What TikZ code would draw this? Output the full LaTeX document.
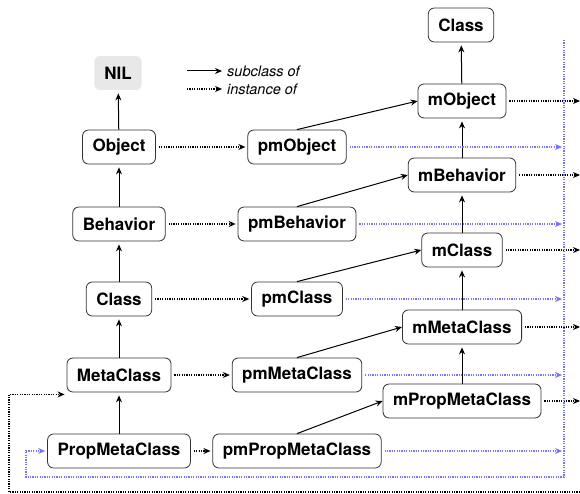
\documentclass[tikz,border=0pt]{standalone}
\usepackage{fontspec}
\setsansfont{TeX Gyre Heros}
\usetikzlibrary{arrows.meta}
\definecolor{linkblue}{RGB}{115,115,255}
\definecolor{nilgray}{RGB}{232,232,232}
\begin{document}
\begin{tikzpicture}[x=1pt,y=-1pt]
\tikzstyle{every node}+=[font=\sffamily\bfseries\fontsize{17}{20}\selectfont]
\tikzstyle{cls}=[draw=black!80,rounded corners=6pt,line width=0.8pt,inner xsep=10pt,minimum height=34pt]
\tikzstyle{sub}=[-{Stealth[length=7pt,width=6pt]},line width=1pt]
\tikzstyle{inst}=[-{Stealth[length=7pt,width=6pt]},line width=1.3pt,dash pattern=on 1.2pt off 1.2pt]
\tikzstyle{blueinst}=[inst,linkblue]
\tikzstyle{legend}=[font=\sffamily\itshape\fontsize{14.5}{16}\selectfont,anchor=west,inner sep=0pt]
\useasboundingbox (0,0) rectangle (580,494);
% legend
\coordinate (l1a) at (187,71);
\coordinate (l1b) at (222,71);
\coordinate (l2a) at (187,89);
\coordinate (l2b) at (222,89);
\draw[sub] (l1a) -- (l1b);
\draw[inst] (l2a) -- (l2b);
\node[legend] (lsub) at (227,71) {subclass of};
\node[legend] (linst) at (227,89) {instance of};
% left column
\node[cls,draw=none,fill=nilgray] (nil) at (118,73) {NIL};
\node[cls] (object) at (119,147) {Object};
\node[cls] (behavior) at (119,224) {Behavior};
\node[cls] (class) at (119,299) {Class};
\node[cls] (metaclass) at (119,375) {MetaClass};
\node[cls] (propmeta) at (119,451) {PropMetaClass};
% middle column
\node[cls] (pmobject) at (297,147) {pmObject};
\node[cls] (pmbehavior) at (297,224) {pmBehavior};
\node[cls] (pmclass) at (297,299) {pmClass};
\node[cls] (pmmetaclass) at (297,375) {pmMetaClass};
\node[cls] (pmpropmeta) at (297,451) {pmPropMetaClass};
% right column
\node[cls] (topclass) at (461,25) {Class};
\node[cls] (mobject) at (462,101) {mObject};
\node[cls] (mbehavior) at (462,175) {mBehavior};
\node[cls] (mclass) at (462,250) {mClass};
\node[cls] (mmetaclass) at (462,327) {mMetaClass};
\node[cls] (mpropmeta) at (462,401) {mPropMetaClass};
% subclass links
\draw[sub,shorten >=3pt] (object) -- (nil);
\draw[sub,shorten >=3pt] (behavior) -- (object);
\draw[sub,shorten >=3pt] (class) -- (behavior);
\draw[sub,shorten >=3pt] (metaclass) -- (class);
\draw[sub,shorten >=3pt] (propmeta) -- (metaclass);
\draw[sub,shorten >=3pt] (mobject) -- (topclass);
\draw[sub,shorten >=3pt] (mbehavior) -- (mobject);
\draw[sub,shorten >=3pt] (mclass) -- (mbehavior);
\draw[sub,shorten >=3pt] (mmetaclass) -- (mclass);
\draw[sub,shorten >=3pt] (mpropmeta) -- (mmetaclass);
\draw[sub] (pmobject.north) -- (mobject.west);
\draw[sub] (pmbehavior.north) -- (mbehavior.west);
\draw[sub] (pmclass.north) -- (mclass.west);
\draw[sub] (pmmetaclass.north) -- (mmetaclass.west);
\draw[sub] (pmpropmeta.north) -- (mpropmeta.west);
% instance links
\draw[inst,shorten <=3pt,shorten >=2pt] (object) -- (pmobject);
\draw[inst,shorten <=3pt,shorten >=2pt] (behavior) -- (pmbehavior);
\draw[inst,shorten <=3pt,shorten >=2pt] (class) -- (pmclass);
\draw[inst,shorten <=3pt,shorten >=2pt] (metaclass) -- (pmmetaclass);
\draw[inst,shorten <=3pt,shorten >=2pt] (propmeta) -- (pmpropmeta);
% m-classes are instances of the top Class
\coordinate (out1) at (580,101);
\coordinate (out2) at (580,175);
\coordinate (out3) at (580,250);
\coordinate (out4) at (580,327);
\coordinate (out5) at (580,401);
\draw[inst,shorten <=3pt] (mobject) -- (out1);
\draw[inst,shorten <=3pt] (mbehavior) -- (out2);
\draw[inst,shorten <=3pt] (mclass) -- (out3);
\draw[inst,shorten <=3pt] (mmetaclass) -- (out4);
\draw[inst,shorten <=3pt] (mpropmeta) -- (out5);
% pm-classes are instances of PropMetaClass
\coordinate (bustop) at (564,40);
\coordinate (busbot) at (564,477);
\coordinate (busleft) at (26,477);
\draw[linkblue,line width=1.3pt,dash pattern=on 1.2pt off 1.2pt] (bustop) -- (busbot);
\draw[blueinst,shorten <=3pt] (pmobject) -- (pmobject -| 562,0);
\draw[blueinst,shorten <=3pt] (pmbehavior) -- (pmbehavior -| 562,0);
\draw[blueinst,shorten <=3pt] (pmclass) -- (pmclass -| 562,0);
\draw[blueinst,shorten <=3pt] (pmmetaclass) -- (pmmetaclass -| 562,0);
\draw[blueinst,shorten <=3pt] (pmpropmeta) -- (pmpropmeta -| 562,0);
\draw[blueinst,shorten >=2pt] (busbot) -- (busleft) |- (propmeta.west);
% PropMetaClass is an instance of MetaClass
\coordinate (loopr) at (580,492);
\coordinate (loopl) at (9,492);
\draw[inst,shorten >=2pt] (loopr) -- (loopl) |- ([yshift=-2pt]metaclass.south west);
\end{tikzpicture}
\end{document}
